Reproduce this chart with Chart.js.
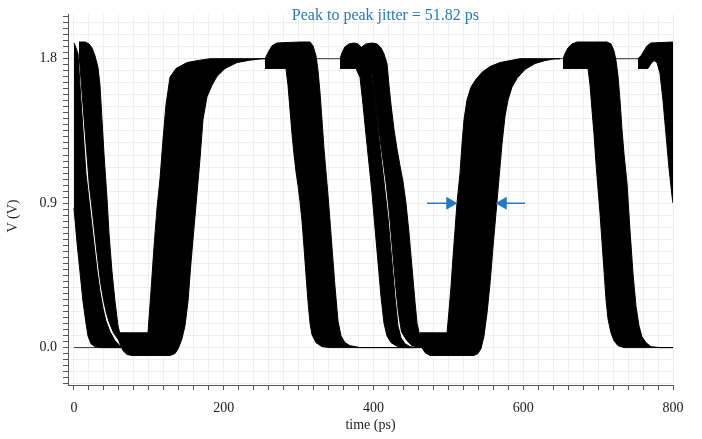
<!DOCTYPE html>
<html>
<head>
<meta charset="utf-8">
<title>Peak to peak jitter</title>
<script src="https://cdn.jsdelivr.net/npm/chart.js@4.4.1/dist/chart.umd.min.js"></script>
<style>
  html, body { margin: 0; padding: 0; background: #fff; }
</style>
</head>
<body>
<canvas id="eyeChart" width="702" height="439"></canvas>
<script>
// time in ps, voltage in V
const TITLE = "Peak to peak jitter = 51.82 ps";
const Y_TITLE = "V (V)";
const xLabels = [0, 200, 400, 600, 800];
const yLabels = [0.0, 0.9, 1.8];

// every bundle of overlaid traces is kept as its lowest and highest trace, [ps, V]
const fall1aLow = [[0, 0.87], [4, 0.655], [8, 0.472], [12, 0.288], [16, 0.153], [18.7, 0.073], [22.7, 0.024], [28, 0.006], [34.7, 0], [68.1, 0]];
const fall1aHigh = [[0, 1.898], [2.7, 1.868], [5.3, 1.831], [8, 1.635], [12, 1.359], [16, 1.084], [18.7, 0.974], [22.7, 0.808], [26.7, 0.643], [30.7, 0.484], [34.7, 0.349], [38.7, 0.245], [42.7, 0.165], [48.1, 0.098], [54.8, 0.043], [61.4, 0.012], [68.1, 0]];

const fall1bLow = [[6.7, 1.831], [12, 1.513], [16.7, 1.237], [20.7, 1.004], [23.4, 0.9], [27.4, 0.729], [31.4, 0.563], [35.4, 0.41], [39.4, 0.3], [43.4, 0.214], [47.4, 0.153], [52.8, 0.092], [57.4, 0.061], [61.4, 0.037], [64.1, 0.018]];
const fall1bHigh = [[6.7, 1.904], [14.7, 1.904], [20, 1.892], [24, 1.868], [28, 1.819], [32.1, 1.745], [34.7, 1.635], [37.4, 1.421], [40.1, 1.206], [44.1, 0.931], [46.7, 0.716], [50.8, 0.472], [54.8, 0.288], [58.8, 0.135], [61.4, 0.086], [64.1, 0.067]];

const rise1Low = [[58.8, 0.061], [61.4, 0.024], [65.4, -0.018], [70.8, -0.043], [77.5, -0.049], [128.2, -0.049], [134.9, -0.037], [137.6, -0.018], [140.2, 0.006], [144.2, 0.055], [148.2, 0.135], [152.3, 0.288], [156.3, 0.533], [160.3, 0.747], [164.3, 0.961], [168.3, 1.176], [172.3, 1.421], [177.6, 1.562], [184.3, 1.635], [191, 1.69], [201.7, 1.739], [217.7, 1.776], [235.1, 1.791], [251.1, 1.8], [261.8, 1.8]];
const rise1High = [[58.8, 0.092], [98.8, 0.092], [102.8, 0.349], [106.8, 0.625], [110.9, 0.87], [114.9, 1.053], [118.9, 1.298], [122.9, 1.513], [128.2, 1.684], [136.2, 1.739], [150.9, 1.776], [168.3, 1.791], [181.6, 1.8], [261.8, 1.8]];

const fall2Low = [[255.1, 1.739], [283.1, 1.739], [285.8, 1.635], [288.5, 1.482], [291.2, 1.329], [293.8, 1.206], [296.5, 1.096], [299.2, 1.01], [301.8, 0.912], [304.5, 0.79], [307.2, 0.625], [309.8, 0.459], [312.5, 0.288], [315.2, 0.153], [317.9, 0.08], [323.2, 0.031], [331.2, 0.006], [341.9, 0], [462.1, 0]];
const fall2High = [[255.1, 1.8], [259.1, 1.837], [264.4, 1.88], [271.1, 1.898], [301.8, 1.904], [315.2, 1.904], [319.2, 1.88], [323.2, 1.819], [325.9, 1.727], [328.5, 1.592], [331.2, 1.421], [333.9, 1.237], [337.9, 1.023], [340.6, 0.87], [344.6, 0.625], [348.6, 0.38], [352.6, 0.165], [356.6, 0.073], [361.9, 0.031], [368.6, 0.012], [382, 0], [462.1, 0]];

const fall3aLow = [[355.3, 1.739], [376.6, 1.739], [382, 1.684], [386, 1.513], [389.9, 1.329], [394, 1.145], [398, 0.961], [402, 0.747], [406, 0.533], [410, 0.318], [414, 0.153], [418, 0.073], [423.4, 0.031], [430.1, 0.012], [438.1, 0], [455.4, 0]];
const fall3aHigh = [[355.3, 1.8], [357.9, 1.837], [361.9, 1.874], [367.3, 1.892], [373.9, 1.898], [379.3, 1.892], [384.6, 1.868], [389.9, 1.831], [394, 1.782], [398, 1.696], [402, 1.543], [406, 1.359], [410, 1.194], [414, 1.035], [419.4, 0.808], [424.7, 0.533], [428.7, 0.318], [432.7, 0.135], [436.7, 0.061], [442.1, 0.024], [448.7, 0.006], [455.4, 0]];

const fall3bLow = [[378, 1.8], [384.6, 1.819], [389.9, 1.806], [395.3, 1.758], [398.7, 1.696], [402, 1.562], [405.3, 1.421], [409.3, 1.28], [413.4, 1.145], [417.4, 1.004], [421.4, 0.827], [425.4, 0.606], [429.4, 0.392], [433.4, 0.214], [437.4, 0.098], [444.7, 0.043], [451.4, 0.012], [462.1, 0], [482.1, 0]];
const fall3bHigh = [[378, 1.8], [380.6, 1.843], [384.6, 1.874], [389.9, 1.892], [398, 1.898], [404.7, 1.892], [410, 1.868], [414, 1.831], [418, 1.77], [420.7, 1.635], [423.4, 1.513], [427.4, 1.359], [431.4, 1.237], [435.4, 1.133], [439.4, 1.035], [443.4, 0.9], [447.4, 0.716], [451.4, 0.502], [455.4, 0.288], [458.1, 0.153], [462.1, 0.067], [467.4, 0.024], [475.5, 0.006], [482.1, 0]];

const rise2Low = [[462.1, 0.043], [464.7, 0], [468.8, -0.031], [475.5, -0.049], [534.2, -0.049], [539.5, -0.037], [543.6, -0.006], [547.6, 0.073], [551.6, 0.214], [555.6, 0.398], [559.6, 0.625], [563.6, 0.839], [567.6, 1.053], [571.6, 1.268], [575.6, 1.439], [579.6, 1.543], [585, 1.623], [591.7, 1.678], [602.3, 1.733], [615.7, 1.77], [629, 1.788], [642.4, 1.8], [649.1, 1.8]];
const rise2High = [[462.1, 0.092], [498.2, 0.092], [500.8, 0.227], [503.5, 0.38], [506.2, 0.563], [508.8, 0.729], [511.5, 0.9], [515.5, 1.084], [518.2, 1.268], [520.9, 1.421], [524.9, 1.543], [530.2, 1.623], [536.9, 1.672], [544.9, 1.715], [555.6, 1.751], [569, 1.776], [582.3, 1.788], [595.7, 1.8], [649.1, 1.8]];

const fall4Low = [[653.1, 1.739], [686.5, 1.739], [689.2, 1.635], [691.8, 1.482], [694.5, 1.329], [697.2, 1.145], [699.8, 0.992], [702.5, 0.839], [705.2, 0.655], [707.8, 0.484], [710.5, 0.3], [713.2, 0.178], [717.2, 0.092], [721.2, 0.043], [726.5, 0.012], [734.6, 0], [800, 0]];
const fall4High = [[653.1, 1.8], [655.8, 1.831], [659.8, 1.868], [665.1, 1.892], [671.8, 1.904], [711.9, 1.904], [717.2, 1.892], [721.2, 1.849], [723.9, 1.788], [726.5, 1.696], [729.2, 1.543], [731.9, 1.359], [734.6, 1.206], [738.6, 1.023], [742.6, 0.729], [746.6, 0.459], [750.6, 0.257], [754.6, 0.135], [758.6, 0.067], [763.9, 0.031], [770.6, 0.006], [782.6, 0], [800, 0]];

const fall5Low = [[753.3, 1.739], [766.6, 1.739], [770.6, 1.77], [774.6, 1.788], [778.6, 1.776], [782.6, 1.709], [786.6, 1.543], [790.6, 1.329], [794.7, 1.115], [798.7, 0.943], [800, 0.9]];
const fall5High = [[753.3, 1.8], [757.3, 1.819], [761.3, 1.849], [765.3, 1.88], [770.6, 1.898], [800, 1.904]];

// traces that just hold their level
const holdLow = [[0, 0], [68, 0]];
const holdHigh1 = [[300, 1.8], [365, 1.8]];
const holdHigh2 = [[640, 1.8], [762, 1.8]];

// jitter markers at the 0.9 V crossing
const arrowIn = [[471.5, 0.9], [502.2, 0.9]];
const arrowOut = [[602.3, 0.9], [573, 0.9]];

const bundles = [
    [fall1aLow, fall1aHigh],
    [fall1bLow, fall1bHigh],
    [rise1Low, rise1High],
    [fall2Low, fall2High],
    [fall3aLow, fall3aHigh],
    [fall3bLow, fall3bHigh],
    [rise2Low, rise2High],
    [fall4Low, fall4High],
    [fall5Low, fall5High]
];

const SERIF = "'Liberation Serif', 'Times New Roman', serif";
const BLUE = "#2479c4";

function pts(arr) {
    return arr.map(p => ({ x: p[0], y: p[1] }));
}

let datasets = [];

datasets.push({
    data: pts(arrowIn), borderColor: BLUE, backgroundColor: BLUE, borderWidth: 1.5,
    pointRadius: [0, 6], pointStyle: "triangle", rotation: 90, order: -1
});
datasets.push({
    data: pts(arrowOut), borderColor: BLUE, backgroundColor: BLUE, borderWidth: 1.5,
    pointRadius: [0, 6], pointStyle: "triangle", rotation: -90, order: -1
});

bundles.forEach(b => {
    datasets.push({ data: pts(b[0]), borderColor: "#000", borderWidth: 1, fill: false });
    datasets.push({ data: pts(b[1]), borderColor: "#000", borderWidth: 1, backgroundColor: "#000", fill: "-1" });
});

[holdLow, holdHigh1, holdHigh2].forEach(h => {
    datasets.push({ data: pts(h), borderColor: "#333", borderWidth: 1, fill: false });
});

// chart title and the y title sit off-centre in the original, so they are placed by hand
const textPlugin = {
    id: "jitterText",
    afterDraw(chart) {
        const ctx = chart.ctx;
        ctx.save();
        ctx.font = "16px " + SERIF;
        ctx.fillStyle = BLUE;
        ctx.textAlign = "center";
        ctx.textBaseline = "middle";
        ctx.fillText(TITLE, chart.scales.x.getPixelForValue(416), 16);

        ctx.font = "14px " + SERIF;
        ctx.fillStyle = "#222";
        ctx.translate(13, chart.scales.y.getPixelForValue(0.82));
        ctx.rotate(-Math.PI / 2);
        ctx.fillText(Y_TITLE, 0, 0);
        ctx.restore();
    }
};

new Chart(document.getElementById("eyeChart"), {
    type: "line",
    data: { datasets: datasets },
    plugins: [textPlugin],
    options: {
        responsive: false,
        animation: false,
        events: [],
        layout: { padding: { top: 8, right: 29, left: 0, bottom: 0 } },
        elements: { point: { radius: 0 }, line: { tension: 0 } },
        plugins: { legend: { display: false }, tooltip: { enabled: false } },
        scales: {
            x: {
                type: "linear",
                min: -8,
                max: 800,
                afterBuildTicks: s => {
                    s.ticks = [];
                    for (let v = 0; v <= 800; v += 20) s.ticks.push({ value: v });
                },
                afterFit: s => { s.height = 54; },
                grid: { color: "#eeeeee", tickColor: "#555", tickLength: 5 },
                border: { color: "#555" },
                ticks: {
                    autoSkip: false, maxRotation: 0, padding: 10, color: "#222",
                    font: { family: SERIF, size: 14 },
                    callback: v => xLabels.includes(v) ? String(v) : ""
                },
                title: {
                    display: true, text: "time (ps)", color: "#222",
                    font: { family: SERIF, size: 14 }, padding: { top: 0, bottom: 5 }
                }
            },
            y: {
                min: -0.233,
                max: 2.076,
                afterBuildTicks: s => {
                    s.ticks = [];
                    for (let k = -6; k <= 55; k++) s.ticks.push({ value: k * 0.0375 });
                },
                afterFit: s => { s.width = 68; },
                grid: {
                    color: c => c.index % 2 === 0 ? "#eeeeee" : "rgba(0,0,0,0)",
                    tickColor: "#555", tickLength: 5
                },
                border: { color: "#555" },
                ticks: {
                    autoSkip: false, padding: 6, color: "#222",
                    font: { family: SERIF, size: 14 },
                    callback: v => {
                        let hit = yLabels.find(l => Math.abs(l - v) < 1e-6);
                        return hit === undefined ? "" : hit.toFixed(1);
                    }
                }
            }
        }
    }
});
</script>
</body>
</html>
